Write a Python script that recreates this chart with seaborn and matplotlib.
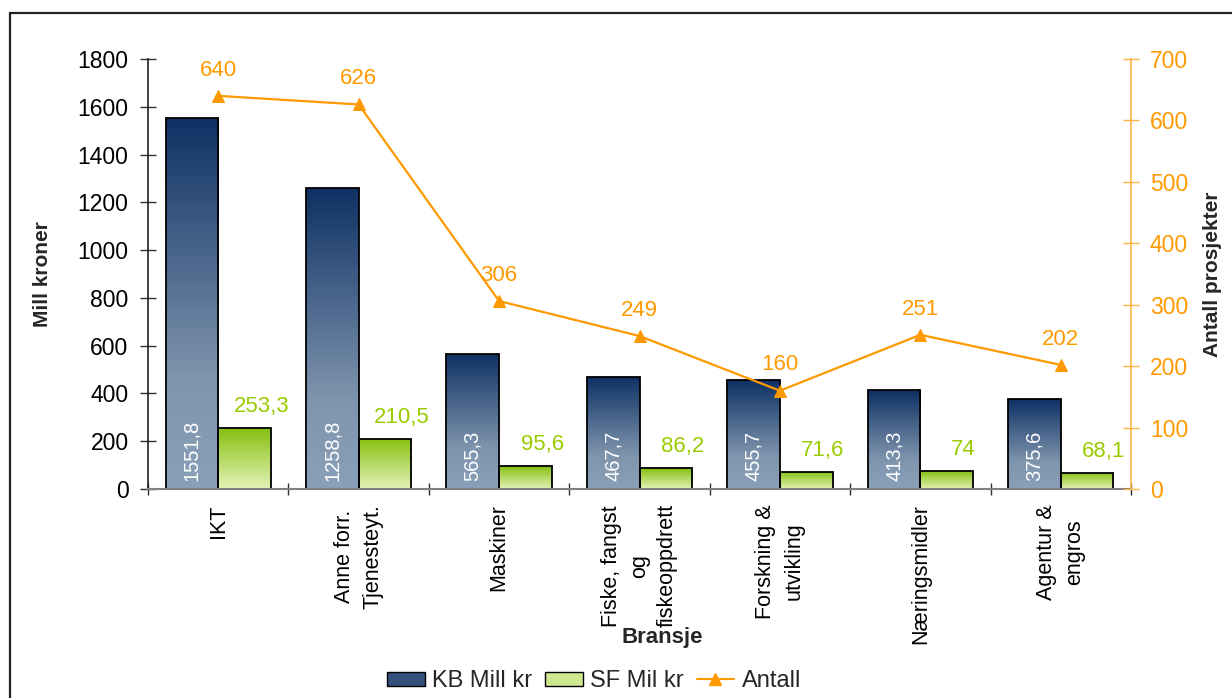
import numpy as np
import pandas as pd
import matplotlib
matplotlib.use("Agg")
import matplotlib.pyplot as plt
import seaborn as sns
from matplotlib.colors import LinearSegmentedColormap
from matplotlib.patches import Rectangle, Patch
from matplotlib.lines import Line2D

# ---------------- data ----------------
categories = ["IKT", "Anne forr.\nTjenesteyt.", "Maskiner", "Fiske, fangst\nog\nfiskeoppdrett",
              "Forskning &\nutvikling", "Næringsmidler", "Agentur &\nengros"]
kb_values = [1551.8, 1258.8, 565.3, 467.7, 455.7, 413.3, 375.6]
sf_values = [253.3, 210.5, 95.6, 86.2, 71.6, 74, 68.1]
antall = [640, 626, 306, 249, 160, 251, 202]
series_names = ["KB Mill kr", "SF Mil kr"]
line_name = "Antall"
left_ticks = [0, 200, 400, 600, 800, 1000, 1200, 1400, 1600, 1800]
right_ticks = [0, 100, 200, 300, 400, 500, 600, 700]
x_title = "Bransje"
y_title = "Mill kroner"
y2_title = "Antall prosjekter"

# ---------------- style ----------------
sns.set_theme(style="white")
plt.rcParams["font.family"] = ["Liberation Sans", "DejaVu Sans"]

ORANGE = "#ff9900"
GREEN_TXT = "#99cc00"

def fmt(v):
    return f"{v:g}".replace(".", ",")

fig = plt.figure(figsize=(12.32, 6.98), dpi=100)
W, H = 1232, 698
ax = fig.add_axes([148 / W, 1 - 489 / H, (1131 - 148) / W, (489 - 59) / H])

df = pd.DataFrame({
    "Bransje": categories * 2,
    "value": kb_values + sf_values,
    "serie": [series_names[0]] * len(categories) + [series_names[1]] * len(categories),
})
sns.barplot(data=df, x="Bransje", y="value", hue="serie", hue_order=series_names,
            palette=["#34507c", "#cde88f"], width=0.75, saturation=1, ax=ax,
            legend=False, edgecolor="black", linewidth=1.3, errorbar=None)

# gradient fills clipped to each bar
kb_cmap = LinearSegmentedColormap.from_list("kb", [(0, "#8aa0b8"), (0.3, "#7f95ae"), (1, "#0e3164")])
sf_cmap = LinearSegmentedColormap.from_list("sf", [(0, "#e4f3b8"), (1, "#86c010")])
grad = np.linspace(0, 1, 256).reshape(-1, 1)
for container, cmap in zip(ax.containers, [kb_cmap, sf_cmap]):
    for bar in container:
        x0, y0 = bar.get_x(), bar.get_y()
        w, h = bar.get_width(), bar.get_height()
        im = ax.imshow(grad, cmap=cmap, extent=[x0, x0 + w, y0, y0 + h], origin="lower",
                       aspect="auto", zorder=1.5, interpolation="bilinear")
        im.set_clip_path(bar)
        bar.set_facecolor("none")
        bar.set_zorder(2)

# value labels
for bar, v in zip(ax.containers[0], kb_values):
    ax.annotate(fmt(v), xy=(bar.get_x() + bar.get_width() / 2, 0), xytext=(0, 6),
                textcoords="offset points", rotation=90, ha="center", va="bottom",
                color="white", fontsize=14.5, zorder=5)
for bar, v in zip(ax.containers[1], sf_values):
    ax.annotate(fmt(v), xy=(bar.get_x() + bar.get_width() / 2, bar.get_height()), xytext=(12, 8),
                textcoords="offset points", ha="center", va="bottom",
                color=GREEN_TXT, fontsize=16, zorder=5)

ax.set_xlim(-0.5, len(categories) - 0.5)
ax.set_ylim(0, 1800)
ax.set_yticks(left_ticks)
ax.tick_params(axis="y", direction="inout", length=12, width=1, color="#303030",
               pad=8, labelsize=16.5, left=True, labelcolor="black")
ax.set_xticks(range(len(categories)))
ax.set_xticklabels(categories, rotation=90, ha="center", va="top", multialignment="center",
                   linespacing=1.45)
ax.tick_params(axis="x", which="major", length=0, pad=11, labelsize=15.5, labelcolor="black")
ax.set_xticks(np.arange(-0.5, len(categories), 1), minor=True)
ax.tick_params(axis="x", which="minor", direction="inout", length=9, width=1,
               color="#303030", bottom=True)

for s in ["top", "right"]:
    ax.spines[s].set_visible(False)
ax.spines["left"].set_color("#202020")
ax.spines["left"].set_linewidth(1.2)
ax.spines["bottom"].set_color("#808080")
ax.spines["bottom"].set_linewidth(1.5)

ax.set_xlabel(x_title, fontsize=16, fontweight="bold")
ax.xaxis.set_label_coords((662 - 148) / 983, (489 - 627) / 430)
ax.set_ylabel(y_title, fontsize=15, fontweight="bold")
ax.yaxis.set_label_coords((52 - 148) / 983, 0.5)

# line on secondary axis
ax2 = ax.twinx()
xpos = np.arange(len(categories))
sns.lineplot(x=xpos, y=antall, ax=ax2, color=ORANGE, marker="^", markersize=9,
             markeredgecolor=ORANGE, linewidth=1.6, legend=False)
for xi, v in zip(xpos, antall):
    ax2.annotate(fmt(v), xy=(xi, v), xytext=(0, 11), textcoords="offset points",
                 ha="center", va="bottom", color=ORANGE, fontsize=16)
ax2.set_ylim(0, 700)
ax2.set_yticks(right_ticks)
ax2.tick_params(axis="y", direction="inout", length=11, width=1, color="#ffb347",
                labelcolor=ORANGE, pad=8, labelsize=16.5, right=True)
for s in ["top", "left", "bottom"]:
    ax2.spines[s].set_visible(False)
ax2.spines["right"].set_color("#ffb347")
ax2.spines["right"].set_linewidth(1.2)
ax2.set_ylabel(y2_title, fontsize=15, fontweight="bold")
ax2.yaxis.set_label_coords((1203 - 148) / 983, 0.5)
ax.set_xlim(-0.5, len(categories) - 0.5)

# legend
handles = [
    Patch(facecolor="#34507c", edgecolor="black", label=series_names[0]),
    Patch(facecolor="#cde88f", edgecolor="black", label=series_names[1]),
    Line2D([], [], color=ORANGE, marker="^", markersize=8, linewidth=1.5, label=line_name),
]
fig.legend(handles=handles, loc="center", bbox_to_anchor=(594 / W, 1 - 681 / H), ncol=3,
           frameon=False, fontsize=17, handlelength=1.6, handleheight=0.55,
           columnspacing=0.55, handletextpad=0.3)

# outer frame
fig.add_artist(Rectangle((10 / W, -0.05), 1.2, 1 - 13 / H + 0.05, transform=fig.transFigure,
                         fill=False, edgecolor="#222222", linewidth=1.6))

fig.savefig("out.png", dpi=100)
